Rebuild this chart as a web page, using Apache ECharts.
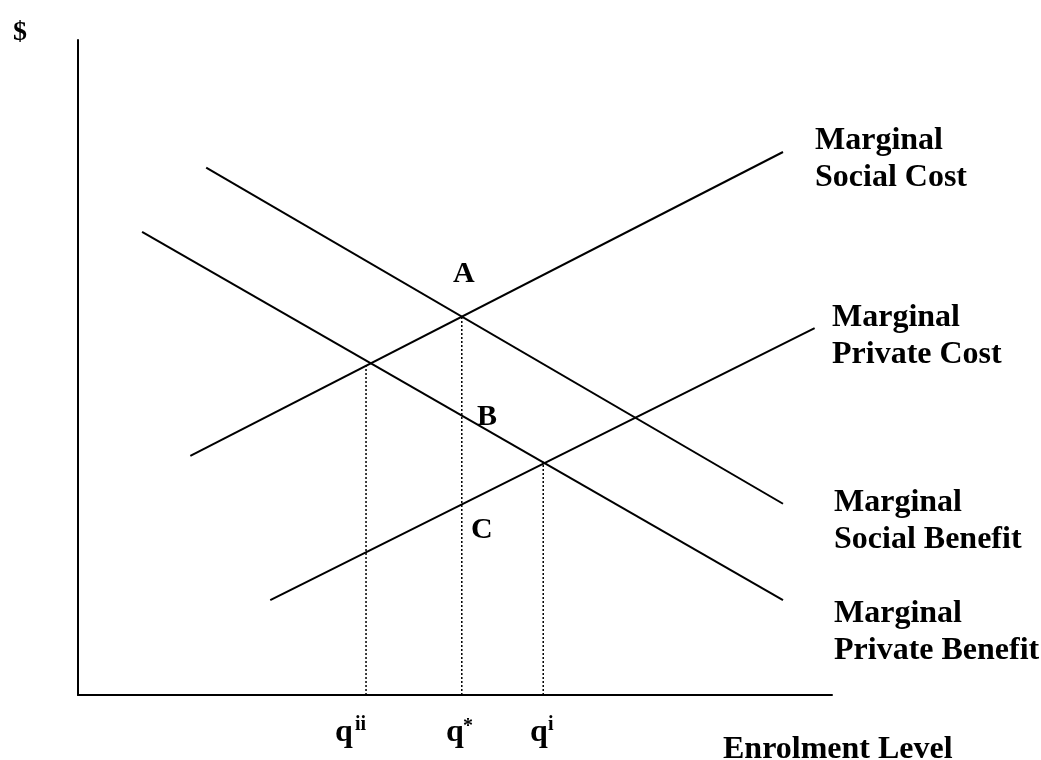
<!DOCTYPE html>
<html>
<head>
<meta charset="utf-8">
<title>Enrolment externality</title>
<script src="https://cdn.jsdelivr.net/npm/echarts@6/dist/echarts.min.js"></script>
<style>
  html, body { margin: 0; padding: 0; background: #fff; }
  #chart { width: 1041px; height: 760px; }
</style>
</head>
<body>
<div id="chart"></div>
<script>
// curve end points (x: enrolment 0-100, y: $ 0-100)
const msc = [[14.9, 36.5], [93.5, 82.9]]; // marginal social cost
const mpc = [[25.5, 14.5], [97.7, 56.0]]; // marginal private cost
const msb = [[17.0, 80.5], [93.5, 29.2]]; // marginal social benefit
const mpb = [[8.5, 70.7], [93.5, 14.5]];  // marginal private benefit

const curveNames = ['Marginal\nSocial Cost', 'Marginal\nPrivate Cost', 'Marginal\nSocial Benefit', 'Marginal\nPrivate Benefit'];

// quantities dropped to the axis
const qX = [38.2, 50.9, 61.7];
const qY = [50.7, 57.9, 35.6];
const qSup = ['ii', '*', 'i'];
const pointNames = ['A', 'B', 'C'];

const FONT = 'Liberation Serif';

function curve(name, data) {
  return {
    name: name,
    type: 'line',
    data: data,
    symbol: 'none',
    silent: true,
    lineStyle: { color: '#000', width: 2 }
  };
}

function dropLine(i) {
  return {
    type: 'line',
    data: [[qX[i], 0], [qX[i], qY[i]]],
    symbol: 'none',
    silent: true,
    lineStyle: { color: '#000', width: 1.5, type: [2, 2] }
  };
}

function txt(x, y, text, size, extra) {
  return {
    type: 'text',
    left: x,
    top: y,
    silent: true,
    style: Object.assign({
      text: text,
      fill: '#000',
      font: 'bold ' + size + 'px "' + FONT + '"',
      lineHeight: 37
    }, extra || {})
  };
}

let myChart = echarts.init(document.getElementById('chart'));

myChart.setOption({
  animation: false,
  backgroundColor: '#fff',
  grid: { left: 78, top: 40, right: 209, bottom: 65 },
  xAxis: {
    type: 'value',
    min: 0,
    max: 100,
    axisLine: { show: true, lineStyle: { color: '#000', width: 2 } },
    axisTick: { show: false },
    axisLabel: { show: false },
    splitLine: { show: false }
  },
  yAxis: {
    type: 'value',
    min: 0,
    max: 100,
    axisLine: { show: true, lineStyle: { color: '#000', width: 2 } },
    axisTick: { show: false },
    axisLabel: { show: false },
    splitLine: { show: false }
  },
  series: [
    curve(curveNames[0], msc),
    curve(curveNames[1], mpc),
    curve(curveNames[2], msb),
    curve(curveNames[3], mpb),
    dropLine(0),
    dropLine(1),
    dropLine(2)
  ],
  graphic: [
    txt(13, 14, '$', 28),
    // curve labels
    txt(815, 122, curveNames[0], 32),
    txt(832, 299, curveNames[1], 32),
    txt(834, 484, curveNames[2], 32),
    txt(834, 595, curveNames[3], 32),
    txt(723, 731, 'Enrolment Level', 32),
    // intersection points
    txt(453, 256, pointNames[0], 30),
    txt(477, 399, pointNames[1], 30),
    txt(471, 512, pointNames[2], 30),
    // q labels with superscripts
    txt(335, 714, 'q', 32),
    txt(355, 706, qSup[0], 20),
    txt(446, 714, 'q', 32),
    txt(463, 708, qSup[1], 20),
    txt(530, 714, 'q', 32),
    txt(548, 706, qSup[2], 20)
  ]
});
</script>
</body>
</html>
